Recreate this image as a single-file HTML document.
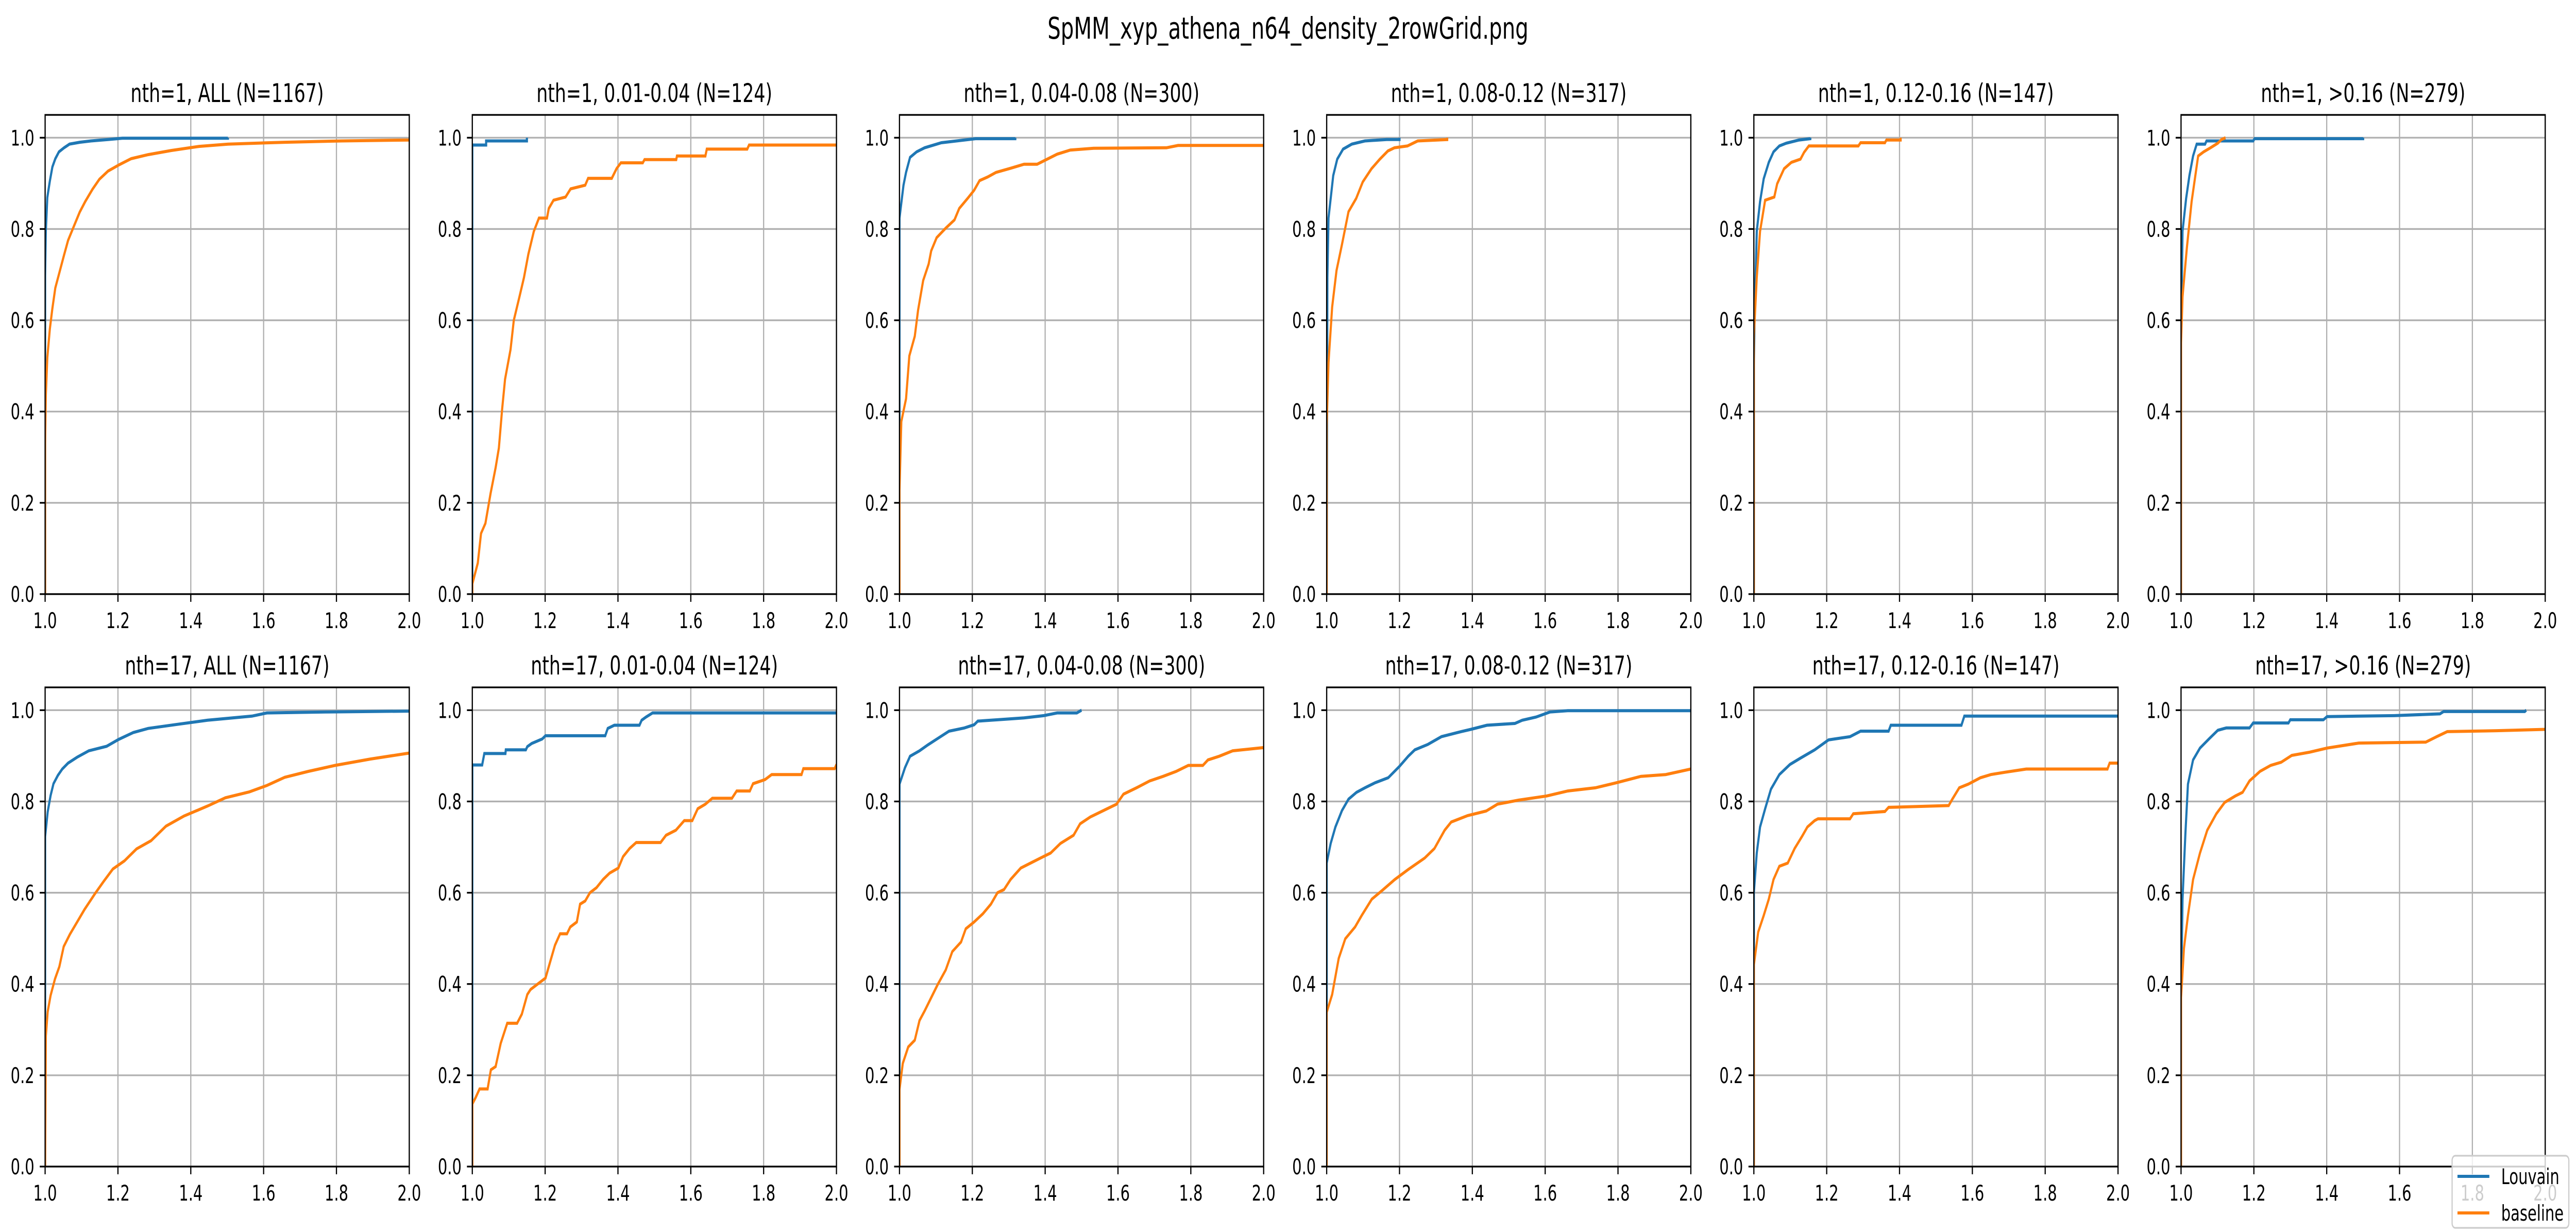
<!DOCTYPE html>
<html><head><meta charset="utf-8"><style>
html,body{margin:0;padding:0;background:#fff;overflow:hidden;}
svg{display:block;width:100vw;height:100vh;font-family:"DejaVu Sans","Liberation Sans",sans-serif;}
</style></head><body>
<svg id="fig" viewBox="0 0 7194 2391" preserveAspectRatio="none" xmlns="http://www.w3.org/2000/svg">
<rect width="7194" height="2391" fill="#fff"/>
<text x="3597" y="75" font-size="58" text-anchor="middle">SpMM_xyp_athena_n64_density_2rowGrid.png</text>
<g id="panels"></g>
<g>
<rect x="6848" y="2243" width="326" height="140" rx="9" fill="#fff" fill-opacity="0.8" stroke="#cccccc" stroke-width="3.3"/>
<line x1="6863" y1="2283" x2="6952" y2="2283" stroke="#1f77b4" stroke-width="6"/>
<text x="6985" y="2298" font-size="41.7">Louvain</text>
<line x1="6863" y1="2354" x2="6952" y2="2354" stroke="#ff7f0e" stroke-width="6"/>
<text x="6985" y="2369" font-size="41.7">baseline</text>
</g>
</svg>
<script>
const panelTitles = [
 "nth=1, ALL (N=1167)","nth=1, 0.01-0.04 (N=124)","nth=1, 0.04-0.08 (N=300)","nth=1, 0.08-0.12 (N=317)","nth=1, 0.12-0.16 (N=147)","nth=1, >0.16 (N=279)",
 "nth=17, ALL (N=1167)","nth=17, 0.01-0.04 (N=124)","nth=17, 0.04-0.08 (N=300)","nth=17, 0.08-0.12 (N=317)","nth=17, 0.12-0.16 (N=147)","nth=17, >0.16 (N=279)"];
const xTicks = [1.0,1.2,1.4,1.6,1.8,2.0];
const xTickLabels = ["1.0","1.2","1.4","1.6","1.8","2.0"];
const yTicks = [0,0.2,0.4,0.6,0.8,1.0];
const yTickLabels = ["0.0","0.2","0.4","0.6","0.8","1.0"];

const p0_louvain_x = [1.0,1.0,1.002,1.006,1.013,1.02,1.028,1.038,1.052,1.067,1.095,1.126,1.173,1.212,1.502,1.502];
const p0_louvain_y = [0,0.698,0.797,0.869,0.905,0.936,0.954,0.969,0.978,0.986,0.99,0.993,0.996,0.999,0.999,1.0];
const p0_baseline_x = [1.0,1.0,1.002,1.006,1.013,1.02,1.028,1.04,1.052,1.063,1.079,1.095,1.11,1.13,1.149,1.173,1.204,1.236,1.283,1.346,1.423,1.502,1.658,1.815,2.0];
const p0_baseline_y = [0,0.329,0.437,0.518,0.581,0.626,0.671,0.707,0.743,0.775,0.806,0.837,0.86,0.887,0.909,0.927,0.941,0.954,0.963,0.972,0.981,0.986,0.99,0.993,0.995];

const p1_louvain_x = [1.0,1.0,1.038,1.038,1.15,1.15];
const p1_louvain_y = [0,0.984,0.984,0.993,0.993,1.0];
const p1_baseline_x = [1.0,1.0,1.015,1.024,1.036,1.05,1.064,1.073,1.082,1.09,1.105,1.114,1.129,1.142,1.154,1.169,1.183,1.205,1.21,1.223,1.256,1.27,1.31,1.318,1.383,1.396,1.408,1.468,1.473,1.56,1.562,1.64,1.644,1.755,1.76,2.0];
const p1_baseline_y = [0,0.022,0.068,0.133,0.155,0.22,0.277,0.32,0.406,0.471,0.536,0.6,0.65,0.694,0.745,0.795,0.824,0.824,0.845,0.863,0.87,0.888,0.896,0.911,0.911,0.932,0.945,0.945,0.952,0.952,0.96,0.96,0.975,0.975,0.984,0.984];

const p2_louvain_x = [1.0,1.0,1.011,1.018,1.029,1.047,1.069,1.115,1.209,1.318,1.318];
const p2_louvain_y = [0,0.824,0.896,0.924,0.957,0.969,0.978,0.989,0.998,0.998,1.0];
const p2_baseline_x = [1.0,1.0,1.005,1.018,1.027,1.042,1.051,1.065,1.08,1.087,1.102,1.127,1.151,1.164,1.187,1.205,1.22,1.242,1.265,1.305,1.342,1.378,1.433,1.469,1.533,1.733,1.765,1.793,2.0];
const p2_baseline_y = [0,0.227,0.378,0.428,0.522,0.565,0.622,0.687,0.723,0.752,0.781,0.802,0.82,0.845,0.867,0.885,0.906,0.914,0.924,0.933,0.942,0.942,0.964,0.973,0.977,0.978,0.983,0.983,0.983];

const p3_louvain_x = [1.0,1.002,1.005,1.013,1.018,1.029,1.045,1.069,1.105,1.165,1.2,1.2];
const p3_louvain_y = [0,0.694,0.824,0.881,0.917,0.953,0.975,0.986,0.993,0.996,0.996,1.0];
const p3_baseline_x = [1.0,1.0,1.005,1.015,1.027,1.042,1.06,1.081,1.099,1.123,1.146,1.168,1.186,1.222,1.25,1.331,1.331];
const p3_baseline_y = [0,0.37,0.507,0.629,0.709,0.766,0.838,0.867,0.903,0.932,0.953,0.971,0.978,0.982,0.993,0.996,1.0];

const p4_louvain_x = [1.0,1.0,1.002,1.008,1.017,1.027,1.041,1.054,1.07,1.089,1.124,1.155,1.155];
const p4_louvain_y = [0,0.5,0.6,0.795,0.86,0.91,0.946,0.969,0.982,0.988,0.995,0.998,1.0];
const p4_baseline_x = [1.0,1.0,1.008,1.017,1.031,1.056,1.064,1.083,1.103,1.128,1.138,1.151,1.287,1.293,1.36,1.364,1.403,1.403];
const p4_baseline_y = [0,0.565,0.694,0.795,0.863,0.87,0.899,0.932,0.946,0.953,0.968,0.982,0.982,0.989,0.989,0.995,0.995,1.0];

const p5_louvain_x = [1.0,1.0,1.004,1.014,1.023,1.033,1.043,1.066,1.07,1.198,1.202,1.5,1.5];
const p5_louvain_y = [0,0.558,0.795,0.867,0.917,0.96,0.986,0.986,0.993,0.993,0.998,0.998,1.0];
const p5_baseline_x = [1.0,1.0,1.004,1.016,1.029,1.047,1.062,1.081,1.101,1.111,1.122];
const p5_baseline_y = [0,0.55,0.651,0.759,0.86,0.96,0.969,0.978,0.988,0.996,1.0];

const p6_louvain_x = [1.0,1.0,1.007,1.015,1.023,1.035,1.047,1.063,1.088,1.12,1.169,1.202,1.242,1.283,1.364,1.446,1.568,1.609,1.771,2.0];
const p6_louvain_y = [0,0.723,0.777,0.813,0.839,0.857,0.871,0.884,0.897,0.911,0.921,0.936,0.951,0.96,0.969,0.978,0.987,0.994,0.996,0.998];
const p6_baseline_x = [1.0,1.002,1.007,1.015,1.027,1.039,1.051,1.068,1.088,1.108,1.137,1.161,1.186,1.218,1.251,1.291,1.332,1.381,1.446,1.495,1.561,1.609,1.658,1.723,1.796,1.893,2.0];
const p6_baseline_y = [0,0.286,0.339,0.375,0.411,0.438,0.482,0.509,0.536,0.563,0.598,0.625,0.652,0.67,0.696,0.714,0.746,0.768,0.79,0.808,0.821,0.835,0.853,0.866,0.879,0.893,0.906];

const p7_louvain_x = [1.0,1.0,1.0,1.027,1.033,1.091,1.092,1.147,1.151,1.163,1.192,1.201,1.365,1.372,1.39,1.459,1.465,1.477,1.495,2.0];
const p7_louvain_y = [0,0.87,0.88,0.88,0.905,0.905,0.913,0.913,0.92,0.927,0.937,0.944,0.944,0.96,0.967,0.967,0.978,0.985,0.994,0.994];
const p7_baseline_x = [1.0,1.0,1.009,1.02,1.042,1.051,1.064,1.078,1.096,1.123,1.136,1.151,1.16,1.178,1.201,1.214,1.227,1.241,1.26,1.269,1.287,1.296,1.31,1.323,1.341,1.359,1.377,1.401,1.414,1.432,1.45,1.517,1.532,1.559,1.582,1.604,1.619,1.64,1.659,1.713,1.726,1.762,1.771,1.804,1.822,1.904,1.909,1.995,2.0];
const p7_baseline_y = [0,0.137,0.151,0.17,0.17,0.212,0.219,0.27,0.314,0.314,0.334,0.377,0.388,0.399,0.413,0.449,0.485,0.51,0.51,0.525,0.536,0.575,0.582,0.6,0.611,0.629,0.643,0.654,0.679,0.697,0.71,0.71,0.726,0.737,0.758,0.758,0.784,0.794,0.807,0.807,0.823,0.823,0.839,0.848,0.859,0.859,0.872,0.872,0.881];

const p8_louvain_x = [1.0,1.0,1.015,1.029,1.055,1.078,1.105,1.136,1.178,1.205,1.215,1.269,1.342,1.396,1.433,1.487,1.5];
const p8_louvain_y = [0,0.838,0.874,0.899,0.911,0.924,0.938,0.954,0.961,0.968,0.976,0.979,0.983,0.988,0.994,0.994,1.0];
const p8_baseline_x = [1.0,1.0,1.009,1.024,1.042,1.055,1.069,1.087,1.105,1.127,1.145,1.169,1.182,1.205,1.229,1.251,1.269,1.287,1.305,1.333,1.36,1.387,1.415,1.442,1.478,1.496,1.524,1.56,1.596,1.615,1.651,1.687,1.724,1.76,1.793,1.833,1.847,1.878,1.915,2.0];
const p8_baseline_y = [0,0.169,0.226,0.262,0.277,0.32,0.341,0.37,0.399,0.431,0.471,0.492,0.521,0.536,0.554,0.575,0.6,0.607,0.629,0.654,0.665,0.676,0.687,0.708,0.726,0.751,0.766,0.78,0.794,0.816,0.83,0.845,0.855,0.866,0.879,0.879,0.891,0.899,0.911,0.918];

const p9_louvain_x = [1.0,1.0,1.011,1.024,1.042,1.06,1.082,1.105,1.133,1.169,1.2,1.224,1.242,1.278,1.315,1.369,1.396,1.44,1.517,1.537,1.575,1.613,1.662,2.0];
const p9_louvain_y = [0,0.665,0.708,0.744,0.78,0.805,0.82,0.83,0.841,0.852,0.877,0.899,0.913,0.925,0.942,0.953,0.958,0.967,0.971,0.978,0.985,0.996,0.999,0.999];
const p9_baseline_x = [1.0,1.0,1.015,1.033,1.051,1.078,1.096,1.124,1.151,1.187,1.224,1.269,1.296,1.324,1.342,1.387,1.438,1.469,1.527,1.604,1.662,1.738,1.796,1.863,1.931,2.0];
const p9_baseline_y = [0,0.338,0.377,0.456,0.499,0.525,0.55,0.586,0.604,0.629,0.651,0.676,0.697,0.737,0.755,0.769,0.779,0.794,0.803,0.812,0.823,0.83,0.841,0.855,0.859,0.871];

const p10_louvain_x = [1.0,1.0,1.008,1.017,1.031,1.047,1.07,1.099,1.128,1.167,1.205,1.264,1.293,1.37,1.376,1.57,1.578,2.0];
const p10_louvain_y = [0,0.6,0.687,0.744,0.784,0.827,0.859,0.881,0.895,0.913,0.935,0.942,0.954,0.954,0.967,0.967,0.987,0.987];
const p10_baseline_x = [1.0,1.0,1.012,1.027,1.041,1.054,1.07,1.093,1.112,1.132,1.147,1.167,1.176,1.264,1.273,1.36,1.37,1.535,1.545,1.564,1.589,1.622,1.651,1.69,1.748,1.971,1.977,2.0];
const p10_baseline_y = [0,0.442,0.514,0.55,0.586,0.629,0.658,0.665,0.697,0.723,0.744,0.758,0.762,0.762,0.773,0.778,0.787,0.791,0.805,0.83,0.838,0.852,0.859,0.864,0.871,0.871,0.884,0.884];

const p11_louvain_x = [1.0,1.0,1.004,1.012,1.019,1.033,1.052,1.078,1.101,1.124,1.188,1.198,1.295,1.3,1.391,1.401,1.585,1.711,1.721,1.944,1.948];
const p11_louvain_y = [0,0.37,0.586,0.73,0.838,0.891,0.917,0.938,0.956,0.961,0.961,0.972,0.972,0.979,0.979,0.986,0.988,0.992,0.997,0.997,1.0];
const p11_baseline_x = [1.0,1.0,1.008,1.019,1.033,1.052,1.072,1.097,1.12,1.149,1.169,1.188,1.217,1.246,1.275,1.304,1.353,1.401,1.488,1.672,1.702,1.731,1.866,2.0];
const p11_baseline_y = [0,0.37,0.478,0.55,0.629,0.687,0.737,0.773,0.798,0.812,0.82,0.845,0.866,0.879,0.886,0.901,0.908,0.917,0.928,0.93,0.942,0.953,0.955,0.958];

const louvainX = [p0_louvain_x,p1_louvain_x,p2_louvain_x,p3_louvain_x,p4_louvain_x,p5_louvain_x,p6_louvain_x,p7_louvain_x,p8_louvain_x,p9_louvain_x,p10_louvain_x,p11_louvain_x];
const louvainY = [p0_louvain_y,p1_louvain_y,p2_louvain_y,p3_louvain_y,p4_louvain_y,p5_louvain_y,p6_louvain_y,p7_louvain_y,p8_louvain_y,p9_louvain_y,p10_louvain_y,p11_louvain_y];
const baselineX = [p0_baseline_x,p1_baseline_x,p2_baseline_x,p3_baseline_x,p4_baseline_x,p5_baseline_x,p6_baseline_x,p7_baseline_x,p8_baseline_x,p9_baseline_x,p10_baseline_x,p11_baseline_x];
const baselineY = [p0_baseline_y,p1_baseline_y,p2_baseline_y,p3_baseline_y,p4_baseline_y,p5_baseline_y,p6_baseline_y,p7_baseline_y,p8_baseline_y,p9_baseline_y,p10_baseline_y,p11_baseline_y];

const NS = "http://www.w3.org/2000/svg";
const LEFTS = [126,1319,2512,3705,4898,6091];
const TOPS = [223,1334];
const W = 1017, H = 930;
const XMIN = 1.0, XMAX = 2.0, YMIN = 0, YMAX = 1.05;
const root = document.getElementById('panels');
function mk(tag, attrs, parent){ const e = document.createElementNS(NS, tag); for (const k in attrs) e.setAttribute(k, attrs[k]); parent.appendChild(e); return e; }

const defs = mk('defs', {}, root);
for (let i = 0; i < 12; i++) {
  const L = LEFTS[i % 6], T = TOPS[Math.floor(i / 6)];
  const sx = v => L + (v - XMIN) / (XMAX - XMIN) * W;
  const sy = v => T + H - (v - YMIN) / (YMAX - YMIN) * H;
  const cp = mk('clipPath', {id: 'clip' + i}, defs);
  mk('rect', {x: L, y: T, width: W, height: H}, cp);
  const g = mk('g', {}, root);
  
  
  xTicks.forEach(t => {
    const l = mk('line', {x1: sx(t), x2: sx(t), y1: T, y2: T + H, stroke: '#b0b0b0', 'stroke-width': 3.3}, g);
    
    
  });
  yTicks.forEach(t => {
    const l = mk('line', {x1: L, x2: L + W, y1: sy(t), y2: sy(t), stroke: '#b0b0b0', 'stroke-width': 3.3}, g);
    
    
  });
  const series = [[louvainX[i], louvainY[i], '#1f77b4', 'louvain-curve'], [baselineX[i], baselineY[i], '#ff7f0e', 'baseline-curve']];
  series.forEach(s => {
    const pts = s[0].map((x, k) => sx(x).toFixed(1) + ',' + sy(s[1][k]).toFixed(1)).join(' ');
    const pl = mk('polyline', {points: pts, fill: 'none', stroke: s[2], 'stroke-width': 6, 'stroke-linejoin': 'miter', 'clip-path': 'url(#clip' + i + ')'}, g);
    
    
  });
  const fr = mk('rect', {x: L, y: T, width: W, height: H, fill: 'none', stroke: '#000', 'stroke-width': 3.3}, g);
  
  
  xTicks.forEach((t, k) => {
    mk('line', {x1: sx(t), x2: sx(t), y1: T + H, y2: T + H + 15, stroke: '#000', 'stroke-width': 3.3}, g);
    const tx = mk('text', {x: sx(t), y: T + H + 66, 'font-size': 41.7, 'text-anchor': 'middle'}, g);
    tx.textContent = xTickLabels[k];
    
    
  });
  yTicks.forEach((t, k) => {
    mk('line', {x1: L - 15, x2: L, y1: sy(t), y2: sy(t), stroke: '#000', 'stroke-width': 3.3}, g);
    const ty = mk('text', {x: L - 30, y: sy(t) + 15, 'font-size': 41.7, 'text-anchor': 'end'}, g);
    ty.textContent = yTickLabels[k];
    
    
  });
  const tt = mk('text', {x: L + W / 2, y: T - 25, 'font-size': 50, 'text-anchor': 'middle'}, g);
  tt.textContent = panelTitles[i];
  
  
}
</script>
</body></html>
